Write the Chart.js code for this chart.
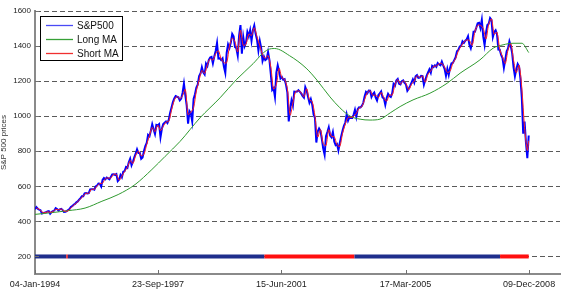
<!DOCTYPE html>
<html>
<head>
<meta charset="utf-8">
<script src="https://cdn.jsdelivr.net/npm/chart.js@4.4.0/dist/chart.umd.min.js"></script>
<style>
  html, body { margin: 0; padding: 0; background: #ffffff; }
  #wrap { width: 570px; height: 304px; position: relative; }
</style>
</head>
<body>
<div id="wrap"><canvas id="c"></canvas></div>
<script>
// ---------------- DATA ----------------
// x positions are decimal years
const xTickDates  = [1994.008, 1997.726, 2001.452, 2005.205, 2008.937];
const xTickLabels = ['04-Jan-1994', '23-Sep-1997', '15-Jun-2001', '17-Mar-2005', '09-Dec-2008'];
const yTicks = [200, 400, 600, 800, 1000, 1200, 1400, 1600];

// S&P500, two readings per month starting 04-Jan-1994
const spxStart = 1994.008;
const spx = [
  // 1994
  470, 481, 472, 467, 464, 445, 448, 450, 452, 457, 459, 444, 453, 458, 462, 475, 470, 462, 469, 472, 466, 454, 455, 459,
  // 1995
  465, 470, 482, 487, 495, 500, 509, 514, 524, 533, 544, 544, 560, 562, 559, 561, 583, 584, 584, 581, 599, 605, 616, 615,
  // 1996
  599, 636, 647, 640, 650, 645, 640, 654, 668, 669, 665, 670, 630, 639, 665, 651, 683, 687, 710, 705, 737, 757, 720, 740,
  // 1997
  765, 786, 811, 790, 790, 757, 765, 801, 830, 848, 893, 885, 917, 954, 925, 899, 950, 947, 955, 880, 928, 955, 963, 970,
  // 1998
  961, 980, 1020, 1049, 1080, 1101, 1115, 1111, 1108, 1090, 1100, 1133, 1185, 1120, 1060, 957, 1029, 1017, 970, 1098, 1125, 1163, 1180, 1229,
  // 1999
  1243, 1279, 1250, 1238, 1300, 1286, 1320, 1335, 1338, 1301, 1340, 1372, 1418, 1329, 1330, 1320, 1330, 1282, 1247, 1362, 1410, 1389, 1420, 1469,
  // 2000
  1455, 1394, 1387, 1346, 1460, 1520, 1356, 1452, 1400, 1421, 1480, 1455, 1490, 1431, 1490, 1517, 1470, 1436, 1374, 1429, 1389, 1315, 1340, 1320,
  // 2001
  1326, 1366, 1320, 1240, 1150, 1160, 1110, 1249, 1290, 1256, 1215, 1224, 1208, 1211, 1180, 1134, 970, 1041, 1090, 1060, 1140, 1139, 1140, 1148,
  // 2002
  1140, 1130, 1116, 1106, 1166, 1147, 1110, 1077, 1098, 1067, 1010, 990, 850, 912, 930, 916, 870, 815, 780, 886, 910, 936, 890, 880,
  // 2003
  910, 856, 835, 841, 805, 848, 885, 917, 945, 964, 1010, 975, 995, 990, 990, 1008, 1036, 996, 1040, 1051, 1050, 1058, 1075, 1112,
  // 2004
  1139, 1131, 1146, 1145, 1110, 1126, 1135, 1107, 1090, 1121, 1130, 1141, 1107, 1102, 1065, 1104, 1128, 1115, 1110, 1130, 1184, 1174, 1204, 1212,
  // 2005
  1185, 1181, 1200, 1204, 1190, 1181, 1145, 1157, 1173, 1191, 1210, 1191, 1227, 1234, 1219, 1220, 1230, 1229, 1180, 1207, 1232, 1249, 1267, 1248,
  // 2006
  1287, 1280, 1290, 1281, 1303, 1295, 1290, 1311, 1290, 1270, 1230, 1270, 1236, 1277, 1302, 1304, 1320, 1336, 1370, 1378, 1397, 1401, 1427, 1418,
  // 2007
  1431, 1438, 1456, 1407, 1387, 1421, 1482, 1482, 1505, 1530, 1533, 1503, 1549, 1455, 1406, 1474, 1520, 1527, 1560, 1549, 1452, 1481, 1490, 1468,
  // 2008 (to 09-Dec)
  1380, 1379, 1349, 1331, 1276, 1323, 1370, 1386, 1426, 1400, 1360, 1280, 1228, 1267, 1298, 1283, 1214, 1106, 900, 969, 850, 760, 890
];

// Short moving average, one reading per month
const shortMa = [
  476, 470, 455, 449, 455, 452, 456, 469, 466, 471, 460, 457,
  468, 485, 498, 512, 529, 544, 561, 560, 584, 583, 602, 616,
  618, 644, 648, 647, 669, 668, 635, 658, 685, 708, 747, 730,
  776, 801, 774, 783, 839, 889, 936, 912, 949, 918, 942, 967,
  971, 1035, 1091, 1113, 1099, 1117, 1153, 1009, 1023, 1049, 1144, 1205,
  1261, 1244, 1293, 1328, 1320, 1356, 1374, 1325, 1306, 1305, 1400, 1445,
  1425, 1367, 1490, 1404, 1411, 1468, 1461, 1504, 1453, 1402, 1352, 1330,
  1346, 1280, 1155, 1180, 1273, 1220, 1210, 1157, 1006, 1075, 1140, 1144,
  1135, 1111, 1157, 1094, 1083, 1000, 881, 923, 843, 833, 923, 885,
  883, 838, 827, 901, 955, 993, 993, 999, 1016, 1046, 1054, 1094,
  1135, 1146, 1118, 1121, 1106, 1136, 1105, 1085, 1122, 1120, 1179, 1208,
  1183, 1202, 1186, 1151, 1182, 1201, 1231, 1220, 1230, 1194, 1241, 1258,
  1284, 1286, 1299, 1301, 1280, 1250, 1257, 1303, 1328, 1374, 1399, 1423,
  1435, 1432, 1404, 1482, 1518, 1518, 1502, 1440, 1524, 1555, 1467, 1479,
  1380, 1340, 1300, 1378, 1413, 1320, 1248, 1291, 1160, 935, 805, 860
];

// Long moving average
const longMaDates = [1994.008, 1994.61, 1995.0, 1995.52, 1996.03, 1996.52, 1997.03, 1997.54, 1997.94, 1998.39,
  1998.99, 1999.6, 2000.1, 2000.6, 2000.87, 2001.05, 2001.25, 2001.7, 2002.2, 2002.53,
  2002.92, 2003.22, 2003.53, 2003.83, 2004.13, 2004.43, 2004.74, 2005.04, 2005.43, 2005.94, 2006.46,
  2006.85, 2007.45, 2007.85, 2008.15, 2008.45, 2008.72, 2008.925];
const longMaValues = [440, 452, 461, 476, 515, 553, 610, 696, 771, 856,
  990, 1105, 1210, 1300, 1355, 1380, 1386, 1345, 1274, 1205,
  1110, 1048, 1000, 983, 978, 983, 1019, 1055, 1093, 1131, 1188,
  1245, 1321, 1388, 1407, 1416, 1416, 1363];

// Trading signal bar drawn at level 200
const signalLevel = 200;
const signalDates  = [1994.008, 1994.955, 1995.0, 2000.94, 2003.66, 2008.06, 2008.925];
const signalStates = ['in', 'out', 'in', 'out', 'in', 'out'];

// ---------------- BUILD ----------------
const spxPts = spx.map((v, i) => ({ x: spxStart + i / 24, y: v }));
const lastX = spxStart + (spx.length - 1) / 24;
const shortPts = shortMa.map((v, k) => ({ x: Math.min(spxStart + (2 * k + 1) / 24, lastX), y: v }));
const longPts = longMaValues.map((v, i) => ({ x: longMaDates[i], y: v }));
const sigPts = signalDates.map(d => ({ x: d, y: signalLevel }));
const sigColor = s => (s === 'in' ? '#1f2e8c' : '#ff1010');

const FONT = "'Liberation Sans', Arial, sans-serif";

const insideTicks = {
  id: 'insideTicks',
  afterDatasetsDraw(chart) {
    const ctx = chart.ctx;
    const xs = chart.scales.x, ys = chart.scales.y;
    ctx.save();
    ctx.strokeStyle = '#707070';
    ctx.lineWidth = 1;
    ctx.beginPath();
    xs.ticks.forEach(t => {
      const px = Math.round(xs.getPixelForValue(t.value)) + 0.5;
      ctx.moveTo(px, ys.bottom);
      ctx.lineTo(px, ys.bottom - 4);
    });
    ys.ticks.forEach(t => {
      const py = Math.round(ys.getPixelForValue(t.value)) + 0.5;
      ctx.moveTo(xs.left, py);
      ctx.lineTo(xs.left + 4, py);
    });
    ctx.stroke();
    ctx.restore();
  }
};

const boxLegend = {
  id: 'boxLegend',
  afterDraw(chart) {
    const ctx = chart.ctx;
    const items = chart.data.datasets.filter(d => d.inLegend);
    const x0 = 40.5, y0 = 16.5, w = 82, h = 44;
    ctx.save();
    ctx.fillStyle = '#ffffff';
    ctx.fillRect(x0, y0, w, h);
    ctx.strokeStyle = '#000000';
    ctx.lineWidth = 1;
    ctx.strokeRect(x0, y0, w, h);
    ctx.font = '10px ' + FONT;
    ctx.textBaseline = 'middle';
    ctx.textAlign = 'left';
    items.forEach((d, i) => {
      const y = 25 + i * 14;
      ctx.strokeStyle = d.legendColor;
      ctx.lineWidth = 1.3;
      ctx.beginPath();
      ctx.moveTo(46, y + 0.5);
      ctx.lineTo(73, y + 0.5);
      ctx.stroke();
      ctx.fillStyle = '#111111';
      ctx.fillText(d.label, 77, y + 1);
    });
    ctx.restore();
  }
};

new Chart(document.getElementById('c'), {
  type: 'line',
  data: {
    datasets: [
      { label: 'S&P500', data: spxPts, borderColor: '#0000ff', legendColor: '#4a4af5', borderWidth: 2,
        pointRadius: 0, tension: 0, order: 3, inLegend: true },
      { label: 'Long MA', data: longPts, borderColor: '#2f9a2f', legendColor: '#36a036', borderWidth: 1,
        pointRadius: 0, cubicInterpolationMode: 'monotone', order: 2, inLegend: true },
      { label: 'Short MA', data: shortPts, borderColor: '#ff2020', legendColor: '#f03030', borderWidth: 1,
        pointRadius: 0, tension: 0.3, order: 1, inLegend: true },
      { label: 'signal', data: sigPts, borderColor: '#1f2e8c', borderWidth: 4, borderCapStyle: 'butt',
        pointRadius: 0, tension: 0, order: 0, inLegend: false,
        segment: { borderColor: c => sigColor(signalStates[c.p0DataIndex]) } }
    ]
  },
  options: {
    responsive: true,
    maintainAspectRatio: false,
    animation: false,
    devicePixelRatio: 1,
    layout: { padding: { top: 11, right: 10, left: 0, bottom: 0 } },
    plugins: { legend: { display: false }, tooltip: { enabled: false } },
    scales: {
      x: {
        type: 'linear',
        min: 1994.008,
        max: 2009.87,
        afterBuildTicks: s => { s.ticks = xTickDates.map(v => ({ value: v })); },
        afterFit: s => { s.height = 30; },
        ticks: {
          autoSkip: false, maxRotation: 0, minRotation: 0, padding: 5,
          color: '#222222', font: { family: FONT, size: 9 },
          callback: (v, i) => xTickLabels[i]
        },
        grid: { display: false, drawTicks: false },
        border: { display: true, color: '#8a8a8a', width: 2 }
      },
      y: {
        min: 100,
        max: 1600,
        afterBuildTicks: s => { s.ticks = yTicks.map(v => ({ value: v })); },
        afterFit: s => { s.width = 35; },
        ticks: {
          padding: 4, color: '#222222', font: { family: FONT, size: 8 },
          callback: v => String(v)
        },
        grid: { display: true, drawTicks: false, color: '#5a5a5a', lineWidth: 1 },
        border: { display: true, color: '#8a8a8a', width: 2, dash: [5, 3] },
        title: {
          display: true, text: 'S&P 500 prices', color: '#333333',
          font: { family: FONT, size: 8, lineHeight: 1 }, padding: { top: 0, bottom: 0 }
        }
      }
    }
  },
  plugins: [insideTicks, boxLegend]
});
</script>
</body>
</html>
